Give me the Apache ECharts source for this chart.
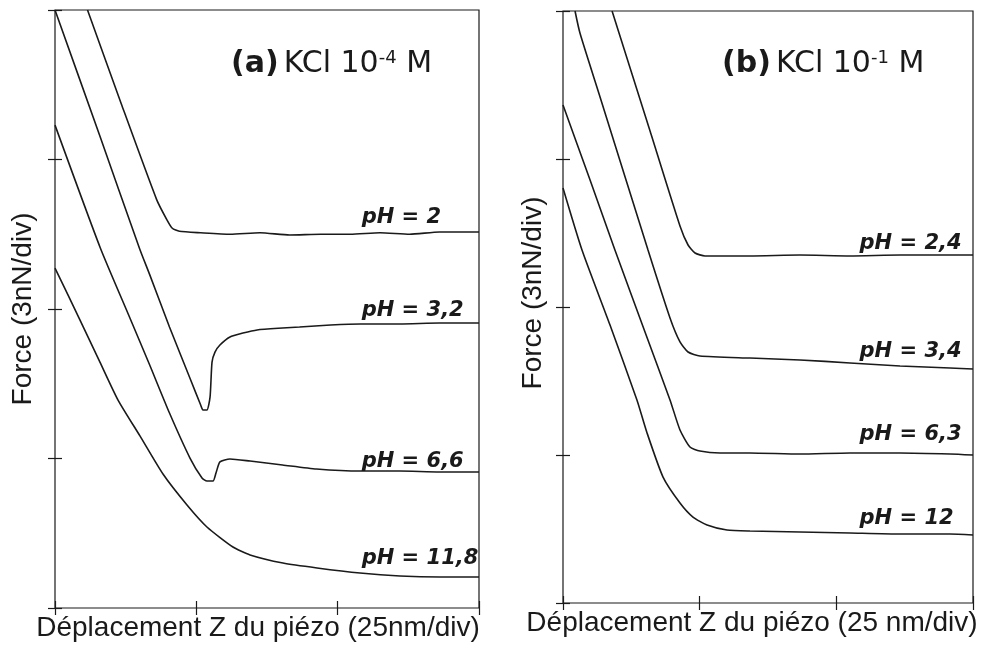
<!doctype html>
<html>
    <head>
        <meta charset="utf-8">
        <style>
            html, body { margin: 0; padding: 0; background: #fff; }
            #main { width: 1001px; height: 655px; }
        </style>
    </head>
    <body>
        <div id="main"></div>
        <script src="https://cdn.jsdelivr.net/npm/echarts@6/dist/echarts.min.js"></script>
        <script>
            // units: divisions of the original plot (x: 25 nm/div, y: 3 nN/div)
            var curveA_pH2 = [[0.23, 4.0], [0.47, 3.37], [0.72, 2.73], [0.79, 2.6], [0.83, 2.54], [0.88, 2.52], [1.03, 2.51], [1.24, 2.5], [1.45, 2.51], [1.66, 2.495], [1.88, 2.5], [2.09, 2.5], [2.3, 2.51], [2.51, 2.5], [2.72, 2.515], [3.0, 2.515]];
            var curveA_pH32 = [[0, 4.0], [0.32, 3.15], [0.6, 2.4], [0.67, 2.23], [0.81, 1.88], [0.96, 1.525], [1.03, 1.36], [1.047, 1.324], [1.075, 1.324], [1.097, 1.41], [1.111, 1.645], [1.132, 1.712], [1.167, 1.759], [1.238, 1.813], [1.33, 1.839], [1.43, 1.86], [1.61, 1.873], [1.73, 1.88], [1.95, 1.893], [2.16, 1.9], [2.44, 1.9], [2.72, 1.906], [3.0, 1.906]];
            var curveA_pH66 = [[0, 3.23], [0.32, 2.41], [0.53, 1.94], [0.67, 1.625], [0.81, 1.304], [0.955, 1.003], [1.04, 0.87], [1.075, 0.849], [1.118, 0.849], [1.139, 0.903], [1.167, 0.977], [1.238, 0.997], [1.38, 0.983], [1.61, 0.957], [1.85, 0.93], [2.16, 0.916], [2.44, 0.916], [2.72, 0.91], [3.0, 0.91]];
            var curveA_pH118 = [[0, 2.274], [0.177, 1.926], [0.318, 1.645], [0.446, 1.391], [0.601, 1.151], [0.764, 0.896], [0.934, 0.689], [1.075, 0.542], [1.259, 0.408], [1.38, 0.355], [1.613, 0.301], [1.854, 0.268], [2.158, 0.234], [2.441, 0.214], [2.724, 0.207], [3.0, 0.207]];

            var curveB_pH24 = [[0.359, 4.0], [0.637, 3.189], [0.856, 2.547], [0.915, 2.419], [0.966, 2.365], [1.039, 2.345], [1.368, 2.345], [1.734, 2.351], [2.1, 2.345], [2.466, 2.351], [2.832, 2.351], [3.0, 2.351]];
            var curveB_pH34 = [[0.088, 4.0], [0.124, 3.851], [0.271, 3.419], [0.622, 2.385], [0.783, 1.926], [0.856, 1.764], [0.915, 1.696], [1.002, 1.669], [1.368, 1.655], [1.734, 1.642], [2.1, 1.622], [2.466, 1.601], [2.832, 1.588], [3.0, 1.581]];
            var curveB_pH63 = [[0, 3.365], [0.198, 2.858], [0.38, 2.385], [0.6, 1.831], [0.783, 1.372], [0.856, 1.169], [0.929, 1.054], [1.002, 1.027], [1.149, 1.014], [1.368, 1.014], [1.734, 1.007], [2.1, 1.014], [2.466, 1.014], [2.832, 1.007], [3.0, 1.0]];
            var curveB_pH12 = [[0, 2.804], [0.139, 2.385], [0.344, 1.878], [0.541, 1.372], [0.615, 1.149], [0.732, 0.851], [0.856, 0.676], [0.951, 0.581], [1.054, 0.527], [1.2, 0.493], [1.368, 0.486], [1.734, 0.48], [2.1, 0.473], [2.466, 0.466], [2.832, 0.466], [3.0, 0.459]];

            var labelsA = ['pH = 2', 'pH = 3,2', 'pH = 6,6', 'pH = 11,8'];
            var labelYA = [2.61, 1.99, 0.98, 0.33];
            var labelsB = ['pH = 2,4', 'pH = 3,4', 'pH = 6,3', 'pH = 12'];
            var labelYB = [2.43, 1.70, 1.14, 0.57];
            var labelX = 2.17;

            var xTicks = [0, 1, 2, 3];
            var yTicks = [0, 1, 2, 3, 4];

            var ink = '#1a1a1a';
            var chart = echarts.init(document.getElementById('main'));

            // one axis per side: line hidden (grid border draws it), pushed out by 7px with
            // 14px inside ticks so each tick crosses the frame like in the original
            function xAxis(grid, name, pad) {
                return {
                    gridIndex: grid, type: 'value', position: 'bottom', offset: 7,
                    min: xTicks[0], max: xTicks[xTicks.length - 1], interval: 1,
                    axisLine: { show: false, onZero: false },
                    axisTick: { show: true, inside: true, length: 14, lineStyle: { color: ink, width: 1.2 } },
                    axisLabel: { show: false }, splitLine: { show: false },
                    name: name, nameLocation: 'middle', nameGap: -1,
                    nameTextStyle: { fontFamily: 'Liberation Sans', fontSize: 28, color: ink, verticalAlign: 'top', padding: pad }
                };
            }
            function yAxis(grid, gap, pad) {
                return {
                    gridIndex: grid, type: 'value', position: 'left', offset: 7,
                    min: yTicks[0], max: yTicks[yTicks.length - 1], interval: 1,
                    axisLine: { show: false, onZero: false },
                    axisTick: { show: true, inside: true, length: 14, lineStyle: { color: ink, width: 1.2 } },
                    axisLabel: { show: false }, splitLine: { show: false },
                    name: 'Force (3nN/div)', nameLocation: 'middle', nameGap: gap,
                    nameTextStyle: { fontFamily: 'Liberation Sans', fontSize: 28, color: ink, padding: pad }
                };
            }

            function curve(data, xi, yi) {
                return {
                    type: 'line', data: data, xAxisIndex: xi, yAxisIndex: yi,
                    showSymbol: false, symbol: 'none', smooth: 0.2,
                    lineStyle: { color: ink, width: 1.6 }, silent: true, z: 3
                };
            }
            function labels(names, ys, xi, yi) {
                return {
                    type: 'scatter', xAxisIndex: xi, yAxisIndex: yi, symbolSize: 0, silent: true,
                    itemStyle: { opacity: 1 },
                    data: names.map(function (n, i) { return { value: [labelX, ys[i]], name: n }; }),
                    label: {
                        show: true, position: [0, 0], align: 'left', verticalAlign: 'middle',
                        formatter: '{b}', fontFamily: 'DejaVu Sans', fontWeight: 'bold', fontStyle: 'italic',
                        fontSize: 21, color: ink, opacity: 1
                    }
                };
            }

            var rich = {
                b: { fontFamily: 'DejaVu Sans', fontSize: 30, fontWeight: 'bold', color: ink },
                n: { fontFamily: 'DejaVu Sans', fontSize: 30, fontWeight: 'normal', color: ink },
                s: { fontFamily: 'DejaVu Sans', fontSize: 18, fontWeight: 'normal', color: ink, verticalAlign: 'top' }
            };

            chart.setOption({
                backgroundColor: '#fff',
                animation: false,
                title: [
                    { left: 226, top: 44, text: '{b|(a)} {n|KCl 10}{s|-4}{n| M}', textStyle: { fontWeight: 'normal', rich: rich } },
                    { left: 717, top: 44, text: '{b|(b)} {n|KCl 10}{s|-1}{n| M}', textStyle: { fontWeight: 'normal', rich: rich } }
                ],
                grid: [
                    { left: 55, top: 10, width: 424, height: 598, show: true, borderColor: ink, borderWidth: 1.2 },
                    { left: 563, top: 11, width: 410, height: 592, show: true, borderColor: ink, borderWidth: 1.2 }
                ],
                xAxis: [
                    xAxis(0, 'Déplacement Z du piézo (25nm/div)', [0, 18, 0, 0]),
                    xAxis(1, 'Déplacement Z du piézo (25 nm/div)', [0, 32, 0, 0])
                ],
                yAxis: [
                    yAxis(0, 11, [0, 0, 0, 0]),
                    yAxis(1, 9, [0, 0, 0, 28])
                ],
                series: [
                    curve(curveA_pH2, 0, 0),
                    curve(curveA_pH32, 0, 0),
                    curve(curveA_pH66, 0, 0),
                    curve(curveA_pH118, 0, 0),
                    labels(labelsA, labelYA, 0, 0),
                    curve(curveB_pH24, 1, 1),
                    curve(curveB_pH34, 1, 1),
                    curve(curveB_pH63, 1, 1),
                    curve(curveB_pH12, 1, 1),
                    labels(labelsB, labelYB, 1, 1)
                ]
            });

            window.onresize = chart.resize;
        </script>
    </body>
</html>
